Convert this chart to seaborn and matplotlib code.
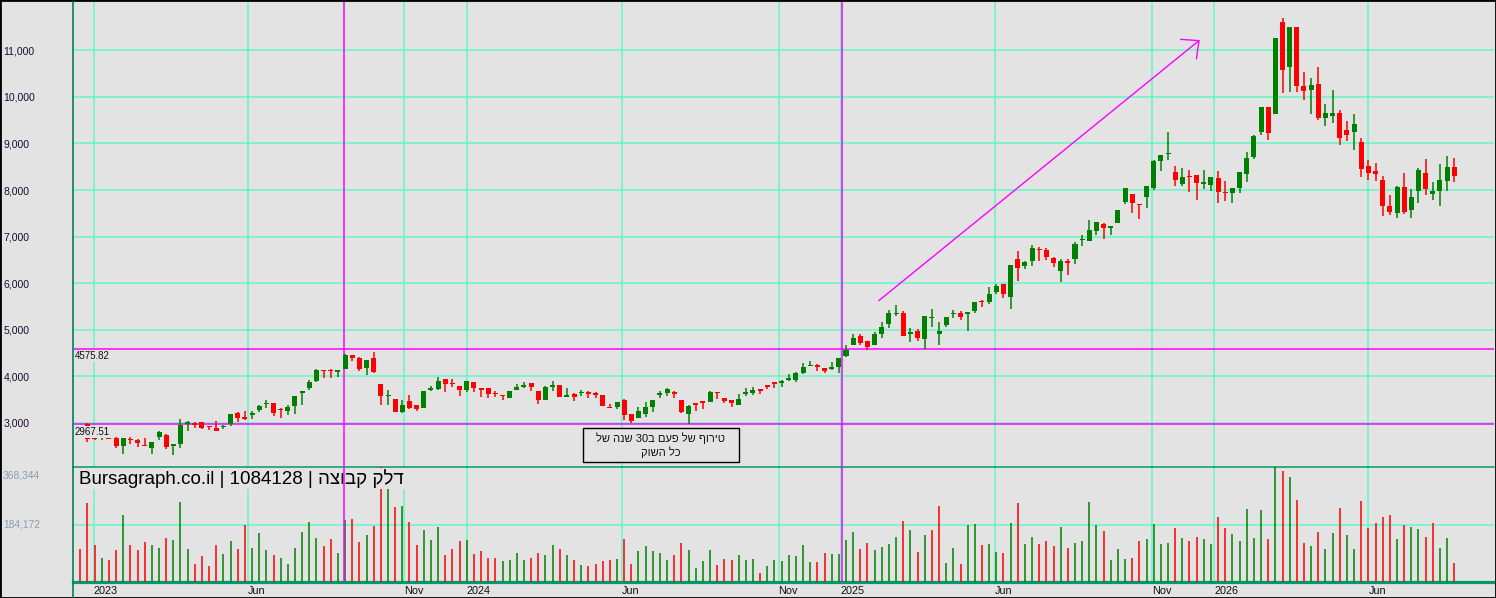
import re
import numpy as np
import pandas as pd
import matplotlib
matplotlib.use('Agg')
import matplotlib.pyplot as plt
import matplotlib.dates as mdates
from matplotlib.patches import Rectangle
import seaborn as sns

# weekly candles, Delek Group (1084128)
dates = pd.date_range('2022-12-19', periods=193, freq='7D')

opens = [2860, 2986, 2691, 2670, 2677, 2677, 2494, 2642, 2628, 2515,
         2466, 2691, 2740, 2494, 2550, 2973, 2987, 3008, 2916, 2888,
         2909, 2973, 3219, 3135, 3163, 3275, 3395, 3416, 3289, 3261,
         3360, 3648, 3740, 3888, 4134, 4127, 4085, 4155, 4465, 4395,
         4183, 4402, 3838, 3578, 3515, 3240, 3479, 3374, 3311, 3705,
         3726, 3937, 3845, 3796, 3711, 3881, 3733, 3747, 3627, 3592,
         3529, 3698, 3761, 3852, 3691, 3500, 3775, 3817, 3564, 3627,
         3634, 3669, 3641, 3592, 3346, 3339, 3500, 3184, 3113, 3198,
         3339, 3606, 3641, 3669, 3500, 3184, 3409, 3458, 3451, 3655,
         3536, 3500, 3381, 3620, 3641, 3711, 3789, 3859, 3852, 3923,
         3923, 4063, 4218, 4240, 4169, 4162, 4204, 4437, 4676, 4861,
         4754, 4669, 4903, 5117, 5331, 5352, 4918, 4967, 4804, 5245,
         4911, 5103, 5338, 5352, 5345, 5395, 5608, 5587, 5807, 5985,
         5701, 6526, 6362, 6469, 6718, 6718, 6548, 6256, 6483, 6512,
         6925, 6896, 7110, 7273, 7174, 7302, 7750, 7914, 7693, 7857,
         8049, 8630, 8765, 8395, 8139, 8295, 8331, 8139, 8117, 8267,
         7939, 7925, 8053, 8352, 8715, 9249, 9783, 9633, 11598, 10637,
         11491, 10231, 10146, 10274, 9548, 9591, 9655, 9292, 9249, 9036,
         8523, 8416, 8224, 7648, 7498, 8075, 7562, 7968, 8374, 7904,
         7989, 8203, 8502]

highs = [2880, 2990, 2691, 2691, 2684, 2691, 2677, 2691, 2656, 2670,
         2586, 2832, 2761, 2550, 3078, 3043, 3008, 3022, 2938, 3036,
         2959, 3184, 3233, 3247, 3254, 3374, 3480, 3416, 3311, 3374,
         3585, 3683, 3923, 4148, 4134, 4148, 4134, 4486, 4465, 4416,
         4359, 4514, 3838, 3711, 3515, 3500, 3606, 3374, 3691, 3782,
         3993, 3937, 3944, 3796, 3909, 3881, 3733, 3747, 3691, 3606,
         3691, 3838, 3867, 3852, 3691, 3782, 3902, 3817, 3740, 3641,
         3698, 3683, 3669, 3592, 3395, 3458, 3515, 3184, 3346, 3451,
         3500, 3677, 3740, 3691, 3500, 3388, 3409, 3458, 3691, 3669,
         3536, 3500, 3620, 3747, 3768, 3711, 3817, 3859, 3923, 4043,
         4085, 4275, 4324, 4261, 4169, 4303, 4402, 4662, 4909, 4903,
         4754, 4946, 5160, 5430, 5523, 5395, 5039, 5024, 5288, 5437,
         5160, 5266, 5416, 5395, 5359, 5601, 5644, 5914, 5985, 5985,
         6398, 6697, 6483, 6818, 6782, 6761, 6569, 6519, 6519, 6889,
         7039, 7352, 7316, 7295, 7231, 7572, 8042, 7914, 7693, 8085,
         8640, 8758, 9249, 8523, 8480, 8438, 8331, 8438, 8288, 8416,
         8203, 8053, 8395, 8822, 9185, 9783, 9783, 11256, 11704, 11491,
         11491, 10530, 10402, 10637, 9847, 10146, 9719, 9484, 9633, 9121,
         8651, 8587, 8309, 7883, 8096, 8374, 8011, 8480, 8672, 8181,
         8566, 8737, 8694]

lows = [2760, 2586, 2642, 2642, 2649, 2459, 2339, 2550, 2480, 2494,
        2339, 2642, 2431, 2304, 2466, 2832, 2881, 2867, 2853, 2832,
        2867, 2923, 3008, 3064, 3092, 3233, 3311, 3149, 3106, 3177,
        3191, 3381, 3711, 3867, 3972, 3972, 3993, 4148, 4331, 4120,
        4029, 4063, 3374, 3374, 3240, 3219, 3289, 3254, 3311, 3691,
        3698, 3662, 3768, 3571, 3655, 3655, 3550, 3529, 3557, 3487,
        3529, 3698, 3747, 3691, 3395, 3500, 3691, 3550, 3557, 3466,
        3571, 3529, 3536, 3360, 3311, 3289, 3064, 2994, 3106, 3127,
        3240, 3536, 3571, 3529, 3219, 2973, 3261, 3304, 3451, 3515,
        3430, 3346, 3381, 3571, 3606, 3620, 3726, 3747, 3768, 3909,
        3874, 4050, 4218, 4120, 4078, 4134, 4078, 4416, 4676, 4669,
        4562, 4669, 4825, 5039, 5295, 4868, 4740, 4761, 4590, 5060,
        4676, 5060, 5252, 5209, 4975, 5352, 5480, 5551, 5772, 5679,
        5444, 6056, 6298, 6362, 6469, 6491, 6341, 6021, 6170, 6405,
        6789, 6896, 7024, 6939, 7024, 7302, 7708, 7515, 7387, 7622,
        7992, 8416, 8651, 8082, 8096, 7954, 7776, 8011, 7989, 7712,
        7755, 7712, 7925, 8181, 8673, 9185, 9078, 9633, 10082, 10103,
        10103, 9932, 9633, 9505, 9377, 9441, 8972, 9057, 8865, 8288,
        8224, 8203, 7434, 7456, 7392, 7477, 7392, 7712, 7883, 7776,
        7648, 7968, 8181]

closes = [2790, 2656, 2649, 2677, 2656, 2494, 2670, 2628, 2564, 2494,
          2586, 2797, 2480, 2550, 2951, 3029, 2959, 2888, 2902, 2832,
          2930, 3184, 3106, 3092, 3219, 3367, 3410, 3219, 3275, 3346,
          3585, 3662, 3867, 4134, 4106, 4113, 4134, 4465, 4395, 4148,
          4359, 4099, 3571, 3592, 3240, 3388, 3311, 3289, 3691, 3740,
          3902, 3831, 3831, 3711, 3888, 3740, 3711, 3620, 3613, 3578,
          3677, 3761, 3817, 3768, 3500, 3761, 3789, 3550, 3578, 3550,
          3648, 3620, 3606, 3360, 3311, 3458, 3163, 3043, 3254, 3346,
          3500, 3648, 3726, 3620, 3233, 3360, 3388, 3437, 3669, 3634,
          3466, 3416, 3522, 3655, 3698, 3690, 3775, 3838, 3888, 3972,
          4063, 4204, 4232, 4204, 4120, 4176, 4402, 4571, 4824, 4725,
          4619, 4911, 5053, 5352, 5345, 4868, 4932, 4825, 5288, 5259,
          4967, 5266, 5352, 5274, 5359, 5601, 5594, 5757, 5949, 5765,
          6398, 6320, 6462, 6761, 6704, 6555, 6441, 6483, 6426, 6846,
          6953, 7145, 7316, 7174, 7231, 7572, 8042, 7715, 7672, 8085,
          8618, 8758, 8780, 8224, 8288, 8281, 8146, 8174, 8288, 7947,
          7925, 8053, 8395, 8694, 9163, 9783, 9228, 11256, 10573, 11491,
          10231, 10124, 10253, 9548, 9655, 9655, 9121, 9185, 9420, 8459,
          8374, 8352, 7648, 7520, 8075, 7520, 7840, 8438, 8011, 7989,
          8224, 8502, 8310]

volumes = [105000, 252000, 120000, 78000, 72000, 102000, 215000, 117000, 104000, 127000,
           120000, 110000, 142000, 136000, 257000, 107000, 59000, 82000, 50000, 120000,
           91000, 131000, 107000, 184000, 110000, 156000, 102000, 88000, 78000, 59000,
           110000, 161000, 193000, 142000, 114000, 139000, 94000, 200000, 203000, 127000,
           152000, 180000, 368000, 300000, 239000, 242000, 193000, 120000, 168000, 133000,
           177000, 85000, 107000, 130000, 136000, 91000, 98000, 78000, 78000, 66000,
           69000, 94000, 72000, 78000, 94000, 88000, 120000, 107000, 88000, 72000,
           53000, 50000, 59000, 66000, 72000, 75000, 139000, 59000, 98000, 114000,
           98000, 94000, 69000, 88000, 126000, 104000, 44000, 66000, 104000, 56000,
           75000, 72000, 85000, 69000, 75000, 28000, 50000, 72000, 66000, 85000,
           82000, 117000, 63000, 63000, 94000, 91000, 91000, 136000, 161000, 105000,
           125000, 102000, 112000, 121000, 144000, 195000, 166000, 96000, 150000, 166000,
           244000, 60000, 108000, 57000, 183000, 186000, 118000, 121000, 96000, 92000,
           189000, 253000, 121000, 144000, 121000, 131000, 115000, 176000, 108000, 125000,
           131000, 257000, 183000, 163000, 70000, 105000, 73000, 76000, 131000, 137000,
           186000, 121000, 125000, 173000, 141000, 131000, 144000, 137000, 121000, 208000,
           173000, 154000, 131000, 234000, 141000, 231000, 137000, 368000, 357000, 337000,
           263000, 125000, 115000, 160000, 105000, 157000, 237000, 150000, 105000, 260000,
           173000, 189000, 208000, 215000, 137000, 183000, 176000, 170000, 144000, 189000,
           108000, 141000, 60000]

# volume bar colour: g = close above previous close, r = below
vol_dir = ("rrrgrrgrrr" "ggrgggrrrr" "ggrrgggrgg" "ggggrrggrr" "grrgrgrrgg"
           "grrrgrrrrg" "gggrrggrgr" "grrrrgrrgg" "gggrrggggr" "rrgggrgggg"
           "gggrrggggr" "rggggrgrgr" "rggrggrggr" "grggrrrgrg" "gggrgggrrg"
           "gggrgrrggr" "rgggggrgrg" "rrgrggrggr" "rrrrgrggrr" "ggr")

tick_dates = ['2023-01-01', '2023-06-01', '2023-11-01', '2024-01-01', '2024-06-01',
              '2024-11-01', '2025-01-01', '2025-06-01', '2025-11-01', '2026-01-01',
              '2026-06-01']
tick_labels = ['2023', 'Jun', 'Nov', '2024', 'Jun', 'Nov', '2025', 'Jun', 'Nov', '2026', 'Jun']
price_ticks = [3000, 4000, 5000, 6000, 7000, 8000, 9000, 10000, 11000]
vol_ticks = [184172, 368344]

level_hi = 4575.82
level_lo = 2967.51
marker_dates = ['2023-09-03', '2025-01-02']

title_he = 'דלק קבוצה'
note_he = ['טירוף של פעם ב30 שנה של', 'כל השוק']


def rtl(s):
    # matplotlib has no bidi: put the hebrew in visual order, keep digit runs
    return ''.join(reversed(re.findall(r'\d+|\D', s)))


BG = '#e3e3e3'
GRID = '#62f7c6'
GREEN = '#008000'
RED = '#ff0000'
MAG = '#ff00ff'
AXIS = '#00805a'

sns.set_theme(style='white', rc={'axes.facecolor': BG, 'figure.facecolor': BG})
plt.rcParams['font.family'] = ['Liberation Sans', 'DejaVu Sans']

W, H = 1496, 598
fig = plt.figure(figsize=(W / 100, H / 100), dpi=100)


def fx(px):
    return px / W


def fy(py):
    return 1 - py / H


ax = fig.add_axes([fx(73), fy(467), fx(1494) - fx(73), fy(2) - fy(467)])
axv = fig.add_axes([fx(73), fy(582), fx(1494) - fx(73), fy(467) - fy(582)], sharex=ax)

x = mdates.date2num(dates)
o = np.array(opens, float)
h = np.array(highs, float)
l = np.array(lows, float)
c = np.array(closes, float)
col = np.where(c >= o, GREEN, RED)

# grid
for p in price_ticks:
    ax.axhline(p, color=GRID, lw=1.1, zorder=1)
for d in tick_dates:
    ax.axvline(pd.Timestamp(d), color=GRID, lw=1.1, zorder=1)
    axv.axvline(pd.Timestamp(d), color=GRID, lw=1.1, zorder=1)
axv.axhline(vol_ticks[0], color=GRID, lw=1.1, zorder=1)

# level lines
ax.axhline(level_hi, color=MAG, lw=1.1, zorder=2)
ax.axhline(level_lo, color=MAG, lw=1.1, zorder=2)
for d in marker_dates:
    ax.axvline(pd.Timestamp(d), color=MAG, lw=1.1, zorder=2)
    axv.axvline(pd.Timestamp(d), color=MAG, lw=1.1, zorder=6)

# candles
ax.vlines(x, l, h, colors=col, lw=1.1, zorder=3)
body_lo = np.minimum(o, c)
body_h = np.maximum(np.abs(c - o), 30)
ax.bar(x, body_h, bottom=body_lo, width=4.9, color=col, linewidth=0, zorder=4)

# volume
vcol = [GREEN if v == 'g' else RED for v in vol_dir]
axv.vlines(x, 0, volumes, colors=vcol, lw=1.1, zorder=3)

left = x[0] - 7.14
ax.set_xlim(left, left + 1390)
ax.set_ylim(2052, 12037)
axv.set_ylim(0, 368344)

ax.set_yticks(price_ticks)
ax.set_yticklabels([f'{p:,}' for p in price_ticks], fontsize=7.6, color='#1a0d33')
for t in ax.get_yticklabels():
    t.set_horizontalalignment('left')
ax.tick_params(axis='y', length=0, pad=50)
ax.tick_params(axis='x', length=0, labelbottom=False)

axv.set_xticks([pd.Timestamp(d) for d in tick_dates])
axv.set_xticklabels(tick_labels, fontsize=7.8, color='#101010')
for t in axv.get_xticklabels():
    t.set_horizontalalignment('left')
axv.tick_params(axis='x', length=0, pad=3)
axv.set_yticks([])

for a in (ax, axv):
    a.grid(False)
    for s in a.spines.values():
        s.set_visible(False)
axv.spines['bottom'].set_visible(True)
axv.spines['bottom'].set_color('#00996b')
axv.spines['bottom'].set_linewidth(2.3)
axv.spines['top'].set_visible(True)
axv.spines['top'].set_color('#009966')
axv.spines['top'].set_linewidth(1.1)

# volume axis labels
axv.annotate(f'{vol_ticks[1]:,}', xy=(0, vol_ticks[1]), xycoords=('axes fraction', 'data'),
             xytext=(-70, -4), textcoords='offset pixels', ha='left', va='top',
             fontsize=7.4, color='#8e9cb0', annotation_clip=False)
axv.annotate(f'{vol_ticks[0]:,}', xy=(0, vol_ticks[0]), xycoords=('axes fraction', 'data'),
             xytext=(-70, 0), textcoords='offset pixels', ha='left', va='center',
             fontsize=7.4, color='#8e9cb0', annotation_clip=False)

# level labels
for lvl, dy in ((level_hi, -2), (level_lo, -3)):
    ax.annotate(f'{lvl:.2f}', xy=(0, lvl), xycoords=('axes fraction', 'data'),
                xytext=(2, dy), textcoords='offset pixels', ha='left', va='top',
                fontsize=7, color='#111111', zorder=5,
                bbox=dict(boxstyle='square,pad=0.1', fc=BG, ec='none'))

# note box: text plus a frame 156 x 34 px around its centre
note_x = mdates.date2num(pd.Timestamp('2024-07-09'))
note_y = 2525
half_w = 78 / 7.156 * 7      # px -> days
half_h = 17 / 0.04657        # px -> price units
ax.add_patch(Rectangle((note_x - half_w, note_y - half_h), 2 * half_w, 2 * half_h,
                       fc=BG, ec='black', lw=1, zorder=5))
ax.text(note_x, note_y, rtl(note_he[0]) + '\n' + rtl(note_he[1]),
        ha='center', va='center', multialignment='center', fontsize=8,
        linespacing=1.3, color='#111111', zorder=6)

# trend arrow
ax.annotate('', xy=(pd.Timestamp('2025-12-18'), 11221),
            xytext=(pd.Timestamp('2025-02-07'), 5623),
            arrowprops=dict(arrowstyle='->,head_length=0.8,head_width=0.75',
                            color=MAG, lw=1, shrinkA=0, shrinkB=0), zorder=5)

# title
axv.text(6 / 1421, 0.9, 'Bursagraph.co.il | 1084128 | ' + rtl(title_he),
         transform=axv.transAxes, ha='left', va='center', fontsize=13.5,
         color='black', zorder=5,
         bbox=dict(boxstyle='square,pad=0.08', fc=BG, ec='none'))

# left axis line and outer frame
fig.add_artist(plt.Line2D([fx(73), fx(73)], [0, fy(2)], transform=fig.transFigure,
                          color=AXIS, lw=1.2))
fig.add_artist(Rectangle((0, 0), 1, 1, transform=fig.transFigure, fill=False,
                         ec='black', lw=2))

fig.savefig('out.png', dpi=100, facecolor=BG)
